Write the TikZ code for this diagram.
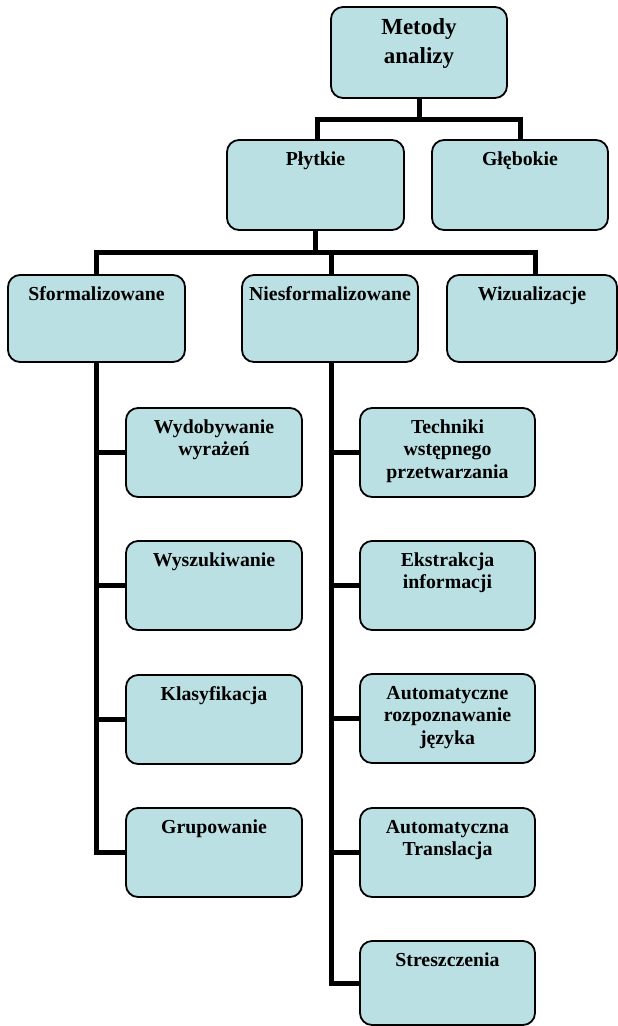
\documentclass[tikz,border=0pt]{standalone}
\usepackage{fontspec}
\setmainfont{Liberation Serif}
\usetikzlibrary{backgrounds}
\definecolor{boxfill}{RGB}{187,224,227}
\newcommand{\bxt}[3]{\parbox[t][#2][t]{#1}{\centering\fontsize{19.8pt}{22.5pt}\selectfont\bfseries\rule{0pt}{25pt}#3}}
\newcommand{\bxtop}[3]{\parbox[t][#2][t]{#1}{\centering\fontsize{23pt}{29pt}\selectfont\bfseries\rule{0pt}{27pt}#3}}
\begin{document}
\begin{tikzpicture}[x=1pt,y=-1pt,
  box/.style={draw=black, line width=1.8pt, fill=boxfill, rounded corners=12pt, inner sep=0pt},
  conn/.style={draw=black, line width=5pt, line join=miter}]
\useasboundingbox (0,0) rectangle (618,1026);
% boxes
\node[box] (M) at (419,52.5) {\bxtop{176pt}{91pt}{Metody\\analizy}};
\node[box] (P) at (315.5,185) {\bxt{177pt}{90pt}{Płytkie}};
\node[box] (G) at (520,185) {\bxt{176pt}{90pt}{Głębokie}};
\node[box] (S) at (96.5,318.5) {\bxt{177pt}{87pt}{Sformalizowane}};
\node[box] (N) at (330,318.5) {\bxt{176pt}{87pt}{Niesformalizowane}};
\node[box] (W) at (532,318.5) {\bxt{170pt}{87pt}{Wizualizacje}};
\node[box] (Wyd) at (214,452.5) {\bxt{176pt}{89pt}{Wydobywanie\\wyrażeń}};
\node[box] (Wys) at (214,585.5) {\bxt{176pt}{89pt}{Wyszukiwanie}};
\node[box] (Kla) at (214,719.5) {\bxt{176pt}{89pt}{Klasyfikacja}};
\node[box] (Gru) at (214,852.5) {\bxt{176pt}{89pt}{Grupowanie}};
\node[box] (Tec) at (447.5,452.5) {\bxt{175pt}{89pt}{Techniki\\wstępnego\\przetwarzania}};
\node[box] (Eks) at (447.5,585.5) {\bxt{175pt}{89pt}{Ekstrakcja\\informacji}};
\node[box] (Aut) at (447.5,718.5) {\bxt{175pt}{89pt}{Automatyczne\\rozpoznawanie\\języka}};
\node[box] (Tra) at (447.5,852.5) {\bxt{175pt}{89pt}{Automatyczna\\Translacja}};
\node[box] (Str) at (447.5,983) {\bxt{175pt}{84pt}{Streszczenia}};
% connectors (behind boxes)
\coordinate (b1) at (0,119);
\coordinate (b2) at (0,252);
\coordinate (nT) at ([xshift=1pt]N.south);
\coordinate (nB) at ([xshift=1pt]N.north);
\coordinate (wT) at ([xshift=3pt]W.north);
\coordinate (pT) at ([xshift=1.5pt]P.north);
\begin{scope}[on background layer]
\draw[conn] (M.south) -- (M.south |- b1);
\draw[conn] (pT) |- (G.north |- b1) -- (G.north);
\draw[conn] (P.south) -- (P.south |- b2);
\draw[conn] (S.north) |- (wT |- b2) -- (wT);
\draw[conn] (nB) -- (nB |- b2);
\draw[conn] (S.south) |- (Gru.west);
\draw[conn] (Wyd.west) -- (Wyd.west -| S.south);
\draw[conn] (Wys.west) -- (Wys.west -| S.south);
\draw[conn] (Kla.west) -- (Kla.west -| S.south);
\draw[conn] (nT) |- (Str.west);
\draw[conn] (Tec.west) -- (Tec.west -| nT);
\draw[conn] (Eks.west) -- (Eks.west -| nT);
\draw[conn] (Aut.west) -- (Aut.west -| nT);
\draw[conn] (Tra.west) -- (Tra.west -| nT);
\end{scope}
\end{tikzpicture}
\end{document}
